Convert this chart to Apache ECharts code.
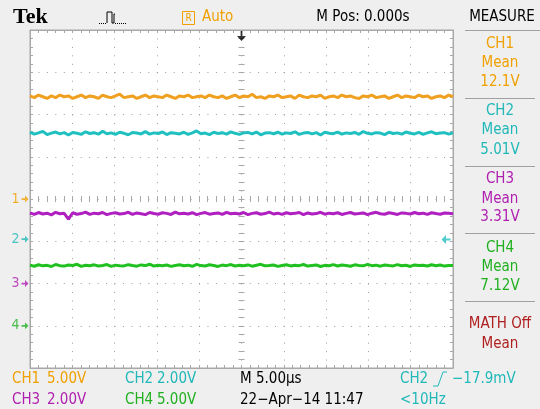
<!DOCTYPE html>
<html><head><meta charset="utf-8">
<script src="https://cdn.jsdelivr.net/npm/echarts@6/dist/echarts.min.js"></script>
<style>html,body{margin:0;padding:0;background:#efefef}#c{width:540px;height:409px}</style>
</head><body><div id="c"></div>
<script>
// ---- data ----
const channelNames = ['CH1', 'CH2', 'CH3', 'CH4'];
const voltsPerDiv = [5, 2, 2, 5];
const groundDiv = [0, -0.95, -2, -3];
const scaleLabels = ['5.00V', '2.00V', '2.00V', '5.00V'];
const meanLabels = ['12.1V', '5.01V', '3.31V', '7.12V'];
const timeRange = [-25, 25];            // µs (5.00 µs/div)
const triggerLevelV = -0.0179;          // CH2 trigger level
const ch1Volts = [12.2,12.0,12.3,12.1,11.9,12.2,12.0,12.3,12.1,12.2,11.9,12.1,12.3,12.0,12.2,12.1,11.9,12.3,12.1,12.0,
12.2,12.4,12.0,12.1,12.2,11.9,12.1,12.3,12.0,12.2,12.1,12.0,12.3,12.1,11.9,12.2,12.1,12.3,12.0,12.1,
12.2,12.0,12.3,12.1,12.0,12.2,11.9,12.1,12.3,12.0,12.2,12.1,12.4,12.0,12.1,11.9,12.2,12.1,12.3,12.0,
12.1,12.2,11.9,12.3,12.1,12.0,12.2,12.1,12.3,11.9,12.1,12.2,12.0,12.3,12.1,12.2,12.0,11.9,12.2,12.1,
12.3,12.0,12.1,12.2,11.9,12.1,12.3,12.0,12.2,12.1,12.0,12.3,12.1,12.2,11.9,12.1,12.2,12.0,12.3,12.1];
const ch2Volts = [5.06,4.97,5.03,5.10,4.95,5.02,5.07,4.98,5.04,4.93,5.05,5.01,4.96,5.08,5.00,5.04,4.97,5.11,4.99,5.03,
4.96,5.06,5.01,4.94,5.05,5.02,4.98,5.09,4.97,5.03,5.00,5.07,4.95,5.04,5.01,4.98,5.06,4.96,5.03,5.12,
4.99,5.02,4.95,5.06,5.00,5.04,4.97,5.08,5.01,4.96,5.03,5.05,4.98,5.07,4.94,5.02,5.04,4.99,5.06,4.97,
5.03,5.00,5.08,4.96,5.02,5.05,4.98,5.04,4.93,5.06,5.01,4.99,5.07,4.97,5.03,5.00,5.05,4.96,5.09,5.01,
4.98,5.04,5.02,4.95,5.06,5.00,5.03,4.97,5.07,5.01,4.98,5.05,4.96,5.03,5.08,4.99,5.02,5.04,4.97,5.03];
const ch3Volts = [3.34,3.27,3.36,3.29,3.33,3.25,3.37,3.30,3.32,3.05,3.35,3.28,3.31,3.38,3.27,3.33,3.30,3.36,3.26,3.32,
3.35,3.29,3.31,3.37,3.27,3.34,3.30,3.26,3.36,3.31,3.28,3.35,3.32,3.27,3.38,3.30,3.33,3.29,3.35,3.26,
3.32,3.36,3.28,3.31,3.34,3.27,3.37,3.30,3.33,3.29,3.36,3.26,3.32,3.35,3.28,3.31,3.38,3.29,3.33,3.27,
3.35,3.30,3.32,3.36,3.26,3.34,3.29,3.31,3.37,3.28,3.33,3.30,3.35,3.27,3.32,3.36,3.29,3.31,3.34,3.26,
3.33,3.37,3.30,3.28,3.35,3.31,3.27,3.34,3.32,3.29,3.36,3.30,3.33,3.27,3.35,3.31,3.28,3.34,3.32,3.30];
const ch4Volts = [7.18,7.04,7.22,7.09,7.15,7.01,7.25,7.11,7.06,7.19,7.13,7.27,7.03,7.16,7.10,7.21,7.07,7.14,7.24,7.02,
7.17,7.11,7.08,7.23,7.13,7.05,7.20,7.12,7.28,7.06,7.15,7.09,7.19,7.03,7.14,7.22,7.10,7.17,7.04,7.26,
7.12,7.08,7.21,7.14,7.02,7.18,7.11,7.24,7.07,7.15,7.10,7.20,7.05,7.16,7.27,7.09,7.13,7.19,7.03,7.14,
7.22,7.08,7.17,7.11,7.25,7.06,7.13,7.20,7.01,7.15,7.10,7.23,7.07,7.18,7.12,7.04,7.21,7.14,7.09,7.26,
7.11,7.17,7.05,7.19,7.13,7.08,7.24,7.10,7.16,7.02,7.20,7.12,7.15,7.07,7.22,7.11,7.18,7.06,7.14,7.12];
const channelVolts = [ch1Volts, ch2Volts, ch3Volts, ch4Volts];

// ---- styles ----
const traceColors = ['#f0a020', '#20c0c0', '#b020c0', '#20c020'];
const textColors = ['#f0a000', '#20b8b8', '#b020b0', '#20b020'];
const FONT = '"DejaVu Sans Condensed","Liberation Sans Narrow","Roboto Condensed",Roboto,sans-serif';
const gridColor = '#a8a8a8';
const dotColor = '#9c9c9c';

const G = {left: 30, top: 30, width: 423, height: 338};

function toDiv(v, ch) { return v / voltsPerDiv[ch] + groundDiv[ch]; }

const series = [];
channelVolts.forEach((arr, ch) => {
  const n = arr.length;
  series.push({
    type: 'line', showSymbol: false, silent: true, z: 5,
    data: arr.map((v, i) => [timeRange[0] + (timeRange[1] - timeRange[0]) * i / (n - 1), toDiv(v, ch)]),
    lineStyle: {color: traceColors[ch], width: 3}
  });
  // ground marker
  series.push({
    type: 'scatter', silent: true, clip: false, z: 6,
    data: [[timeRange[0], groundDiv[ch]]],
    symbol: 'path://M0,4 L5,4 L5,1 L10,5 L5,9 L5,6 L0,6 Z',
    symbolSize: [7, 7], symbolOffset: [-5, 0],
    itemStyle: {color: textColors[ch]},
    label: {show: true, position: 'left', distance: 2, formatter: String(ch + 1),
            color: textColors[ch], fontSize: 14, fontFamily: FONT}
  });
});
// trigger level arrow (CH2)
series.push({
  type: 'scatter', silent: true, clip: false, z: 6,
  data: [[timeRange[1], toDiv(triggerLevelV, 1)]],
  symbol: 'path://M10,4 L5,4 L5,0 L0,5 L5,10 L5,6 L10,6 Z',
  symbolSize: [9, 9], symbolOffset: [-7, 0],
  itemStyle: {color: traceColors[1]}
});
// trigger position arrow (top)
series.push({
  type: 'scatter', silent: true, clip: false, z: 6,
  data: [[0, 4]],
  symbol: 'path://M4,0 L6,0 L6,5 L10,5 L5,10 L0,5 L4,5 Z',
  symbolSize: [9, 10], symbolOffset: [0, 6],
  itemStyle: {color: '#000'}
});

function xAx(pos, offset, inside, split, line) {
  return {
    type: 'value', min: timeRange[0], max: timeRange[1], interval: 5, position: pos, offset: offset,
    axisLine: {show: line, onZero: false, lineStyle: {color: gridColor}},
    axisTick: {show: true, inside: inside, length: 3, lineStyle: {color: gridColor}},
    minorTick: {show: true, splitNumber: 5, length: 3, lineStyle: {color: gridColor}},
    axisLabel: {show: false},
    splitLine: {show: split, lineStyle: {color: dotColor, width: 1, type: [1, 7.45]}}
  };
}
function yAx(pos, offset, inside, split, line) {
  return {
    type: 'value', min: -4, max: 4, interval: 1, position: pos, offset: offset,
    axisLine: {show: line, onZero: false, lineStyle: {color: gridColor}},
    axisTick: {show: true, inside: inside, length: 3, lineStyle: {color: gridColor}},
    minorTick: {show: true, splitNumber: 5, length: 3, lineStyle: {color: gridColor}},
    axisLabel: {show: false},
    splitLine: {show: split, lineStyle: {color: dotColor, width: 1, type: [1, 7.45]}}
  };
}

function txt(x, y, text, color, size, align, extra) {
  return Object.assign({
    type: 'text', x: x, y: y, z: 10, silent: true,
    style: {text: text, fill: color, font: (size || 15) + 'px ' + FONT,
            textAlign: align || 'left', align: align || 'left',
            textVerticalAlign: 'middle', verticalAlign: 'middle'}
  }, extra || {});
}
function hline(x1, x2, y, color) {
  return {type: 'line', silent: true, z: 10, shape: {x1: x1, y1: y, x2: x2, y2: y},
          style: {stroke: color || '#a0a0a0', lineWidth: 1}};
}

const graphics = [
  // top bar
  {type: 'text', x: 13, y: 17, z: 10, style: {text: 'Tek', fill: '#000', font: 'bold 22px "Liberation Serif","DejaVu Serif",serif', textVerticalAlign: 'middle', verticalAlign: 'middle'}},
  {type: 'polyline', z: 10, shape: {points: [[107, 23], [107, 12], [112, 12], [112, 23], [114, 23], [114, 14], [115, 14]]}, style: {stroke: '#000', lineWidth: 1, fill: null}},
  {type: 'line', z: 10, shape: {x1: 99, y1: 23.5, x2: 107, y2: 23.5}, style: {stroke: '#000', lineWidth: 1, lineDash: [1, 1]}},
  {type: 'line', z: 10, shape: {x1: 115, y1: 23.5, x2: 126, y2: 23.5}, style: {stroke: '#000', lineWidth: 1, lineDash: [1, 1]}},
  {type: 'rect', z: 10, shape: {x: 182.5, y: 11.5, width: 12, height: 13}, style: {stroke: '#f0a000', lineWidth: 1, fill: null}},
  txt(188.5, 18.5, 'R', '#f0a000', 10, 'center'),
  txt(202, 17, 'Auto', '#f0a000', 15),
  txt(363, 17, 'M Pos: 0.000s', '#000', 15, 'center'),
  txt(502, 17, 'MEASURE', '#000', 15, 'center'),
  hline(465, 540, 30.5),
  // right measure panel
  txt(500, 44, 'CH1', textColors[0], 15, 'center'),
  txt(500, 63, 'Mean', textColors[0], 15, 'center'),
  txt(500, 82, meanLabels[0], textColors[0], 15, 'center'),
  hline(465, 535, 98.5),
  txt(500, 111, 'CH2', textColors[1], 15, 'center'),
  txt(500, 130, 'Mean', textColors[1], 15, 'center'),
  txt(500, 150, meanLabels[1], textColors[1], 15, 'center'),
  hline(465, 535, 166.5),
  txt(500, 179, 'CH3', textColors[2], 15, 'center'),
  txt(500, 199, 'Mean', textColors[2], 15, 'center'),
  txt(500, 217, meanLabels[2], textColors[2], 15, 'center'),
  hline(465, 535, 233.5),
  txt(500, 248, 'CH4', textColors[3], 15, 'center'),
  txt(500, 267, 'Mean', textColors[3], 15, 'center'),
  txt(500, 286, meanLabels[3], textColors[3], 15, 'center'),
  hline(465, 535, 301.5),
  txt(500, 324, 'MATH Off', '#b02020', 15, 'center'),
  txt(500, 344, 'Mean', '#b02020', 15, 'center'),
  // bottom status
  txt(12, 379, channelNames[0], textColors[0]), txt(47, 379, scaleLabels[0], textColors[0]),
  txt(125, 379, channelNames[1], textColors[1]), txt(157, 379, scaleLabels[1], textColors[1]),
  txt(240, 379, 'M 5.00\u00b5s', '#000'),
  txt(400, 379, 'CH2', textColors[1]),
  {type: 'polyline', z: 10, shape: {points: [[433, 386], [438, 386], [443, 372], [447, 372]]}, style: {stroke: textColors[1], lineWidth: 1, fill: null}},
  txt(452, 379, '\u221217.9mV', textColors[1]),
  txt(12, 400, channelNames[2], textColors[2]), txt(47, 400, scaleLabels[2], textColors[2]),
  txt(125, 400, channelNames[3], textColors[3]), txt(157, 400, scaleLabels[3], textColors[3]),
  txt(240, 400, '22\u2212Apr\u221214 11:47', '#000'),
  txt(400, 400, '<10Hz', textColors[1])
];

const chart = echarts.init(document.getElementById('c'), null, {renderer: 'canvas'});
chart.setOption({
  animation: false,
  backgroundColor: '#efefef',
  grid: Object.assign({show: true, backgroundColor: '#fff', borderColor: gridColor, borderWidth: 1}, G),
  xAxis: [
    xAx('bottom', 0, true, true, true),
    xAx('top', 0, true, false, true),
    xAx('bottom', -G.height / 2, true, false, false),
    xAx('bottom', -G.height / 2, false, false, false)
  ],
  yAxis: [
    yAx('left', 0, true, true, true),
    yAx('right', 0, true, false, true),
    yAx('left', -G.width / 2, true, false, false),
    yAx('left', -G.width / 2, false, false, false)
  ],
  series: series,
  graphic: graphics
});
</script></body></html>
